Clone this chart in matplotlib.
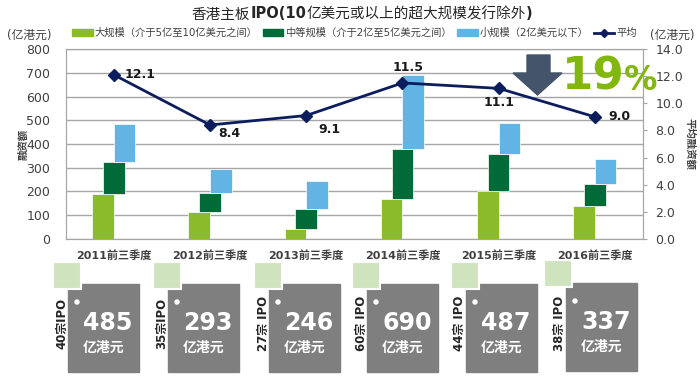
import matplotlib
matplotlib.use("Agg")
import matplotlib.pyplot as plt
from matplotlib.patches import Rectangle, Polygon, Patch
from matplotlib.lines import Line2D
import numpy as np

plt.rcParams['font.family'] = ['DejaVu Sans', 'Noto Sans CJK SC']

categories = ['2011前三季度', '2012前三季度', '2013前三季度', '2014前三季度', '2015前三季度', '2016前三季度']
large = [188, 115, 42, 167, 202, 140]
medium = [137, 77, 86, 212, 154, 90]
small = [160, 101, 118, 311, 131, 107]
average = [12.1, 8.4, 9.1, 11.5, 11.1, 9.0]
totals = ['485', '293', '246', '690', '487', '337']
ipo_counts = ['40宗IPO', '35宗IPO', '27宗 IPO', '60宗 IPO', '44宗 IPO', '38宗 IPO']
legend_labels = ['大规模（介于5亿至10亿美元之间）', '中等规模（介于2亿至5亿美元之间）', '小规模（2亿美元以下）', '平均']

c_large = '#8abb2a'
c_med = '#006b38'
c_small = '#62b4e4'
c_line = '#0c1d5e'
c_text = '#404040'

W, H = 700, 376
fig = plt.figure(figsize=(7, 3.76), dpi=100)
ax = fig.add_axes([65.7 / W, 1 - 239 / H, (643 - 65.7) / W, (239 - 49) / H])
ax2 = ax.twinx()

x = np.arange(len(categories))
bw = 0.224
off = 0.112
large_a = np.array(large)
med_a = np.array(medium)
small_a = np.array(small)
ax.bar(x - off, large_a, bw, color=c_large, edgecolor='white', linewidth=0.5, zorder=3)
ax.bar(x, med_a, bw, bottom=large_a, color=c_med, edgecolor='white', linewidth=0.5, zorder=3)
ax.bar(x + off, small_a, bw, bottom=large_a + med_a, color=c_small, edgecolor='white', linewidth=0.5, zorder=3)

ax.set_xlim(-0.5, len(categories) - 0.5)
ax.set_ylim(0, 800)
ax.set_yticks(range(0, 801, 100))
ax.yaxis.grid(True, color='#a6a6a6', linewidth=1.0, zorder=0)
ax.set_axisbelow(True)
ax.set_xticks(x)
ax.set_xticklabels(categories, fontsize=8, fontweight='bold', color=c_text)
ax.tick_params(axis='x', length=0, pad=8)
ax.tick_params(axis='y', length=0, pad=11, labelsize=9, labelcolor=c_text)
for s in ['left', 'bottom', 'right', 'top']:
    ax.spines[s].set_color('#a6a6a6')

ax2.plot(x, average, color=c_line, linewidth=2, marker='D', markersize=6, zorder=5)
ax2.set_ylim(0, 14)
ax2.set_yticks(np.arange(0, 14.1, 2))
ax2.set_yticklabels([f'{v:.1f}' for v in np.arange(0, 14.1, 2)])
ax2.tick_params(axis='y', length=3, color='#a6a6a6', pad=6, labelsize=9, labelcolor=c_text)
for s in ['left', 'bottom', 'right', 'top']:
    ax2.spines[s].set_color('#a6a6a6')

offsets = [((8, 0), 'left', 'center'), ((6, -6), 'left', 'center'), ((9, -10), 'left', 'center'),
           ((4, 11), 'center', 'center'), ((0, -10), 'center', 'center'), ((10, 0), 'left', 'center')]
for i, v in enumerate(average):
    (dx, dy), ha, va = offsets[i]
    ax2.annotate(f'{v:.1f}', (x[i], v), xytext=(dx, dy), textcoords='offset points',
                 ha=ha, va=va, fontsize=9, fontweight='bold', color='#1a1a1a', zorder=6)

# legend
handles = [Patch(color=c_large), Patch(color=c_med), Patch(color=c_small),
           Line2D([0], [0], color=c_line, lw=2, marker='D', markersize=4)]
fig.legend(handles, legend_labels, loc='center', bbox_to_anchor=(354.5 / W, 1 - 33 / H), ncol=4,
           frameon=False, fontsize=7.4, handlelength=2.0, handletextpad=0.2, columnspacing=0.5,
           labelcolor=c_text)

# overlay in pixel coords
ov = fig.add_axes([0, 0, 1, 1], zorder=10)
ov.set_xlim(0, W)
ov.set_ylim(H, 0)
ov.axis('off')

# title (mixed weights)
fig.canvas.draw()
renderer = fig.canvas.get_renderer()
parts = [('香港主板', 'normal'), ('IPO(10', 'bold'), ('亿美元或以上的超大规模发行除外', 'normal'), (')', 'bold')]
tobjs = []
for txt, wt in parts:
    t = ov.text(0, 14, txt, fontsize=10.5, fontweight=wt, color='#262626', ha='left', va='center')
    tobjs.append(t)
widths = [t.get_window_extent(renderer).width for t in tobjs]
start = 362 - sum(widths) / 2
for t, w in zip(tobjs, widths):
    t.set_x(start)
    start += w

ov.text(7, 35, '(亿港元)', fontsize=8.5, color=c_text, ha='left', va='center')
ov.text(650, 35, '(亿港元)', fontsize=8.5, color=c_text, ha='left', va='center')
ov.text(23, 144, '融资额', fontsize=7.5, color=c_text, rotation=90, ha='center', va='center', fontweight='bold')
ov.text(690, 144, '平均融资额', fontsize=7.5, color=c_text, rotation=270, ha='center', va='center', fontweight='bold')

# arrow and 19%
ov.add_patch(Polygon([(527, 55), (550, 55), (550, 73), (562, 73), (537.5, 95), (513, 73), (527, 73)],
                     closed=True, color='#44546a', zorder=1))
ov.text(562, 90, '19', fontsize=32.5, fontweight='bold', color='#82b70f', ha='left', va='baseline')
ov.text(624, 90, '%', fontsize=24, fontweight='bold', color='#82b70f', ha='left', va='baseline')

# bottom boxes
box_left = [68, 168, 269, 367, 466, 566]
sq_left = [53, 153, 254, 352, 451, 544]
for i in range(len(categories)):
    bl = box_left[i]
    top = 284 if i < 5 else 283
    ov.add_patch(Rectangle((bl, top), 71, 88, color='#7f7f7f', zorder=1))
    sqt = 262 if i < 5 else 260
    ov.add_patch(Rectangle((sq_left[i], sqt), 28, 27, facecolor='#d0e3bf', edgecolor='white', lw=1.5, zorder=2))
    ov.add_patch(plt.Circle((bl + 9, top + 18), 2.0, color='white', zorder=3))
    ov.text(bl + 15, top + 39, totals[i], fontsize=17, fontweight='bold', color='white',
            ha='left', va='center', zorder=4)
    ov.text(bl + 15, top + 64, '亿港元', fontsize=10, fontweight='bold', color='white',
            ha='left', va='center', zorder=4)
    ov.text(bl - 6, 323, ipo_counts[i], fontsize=8.5, fontweight='bold', color='#262626',
            rotation=90, ha='center', va='center', zorder=4)

fig.savefig('out.png', dpi=100)
